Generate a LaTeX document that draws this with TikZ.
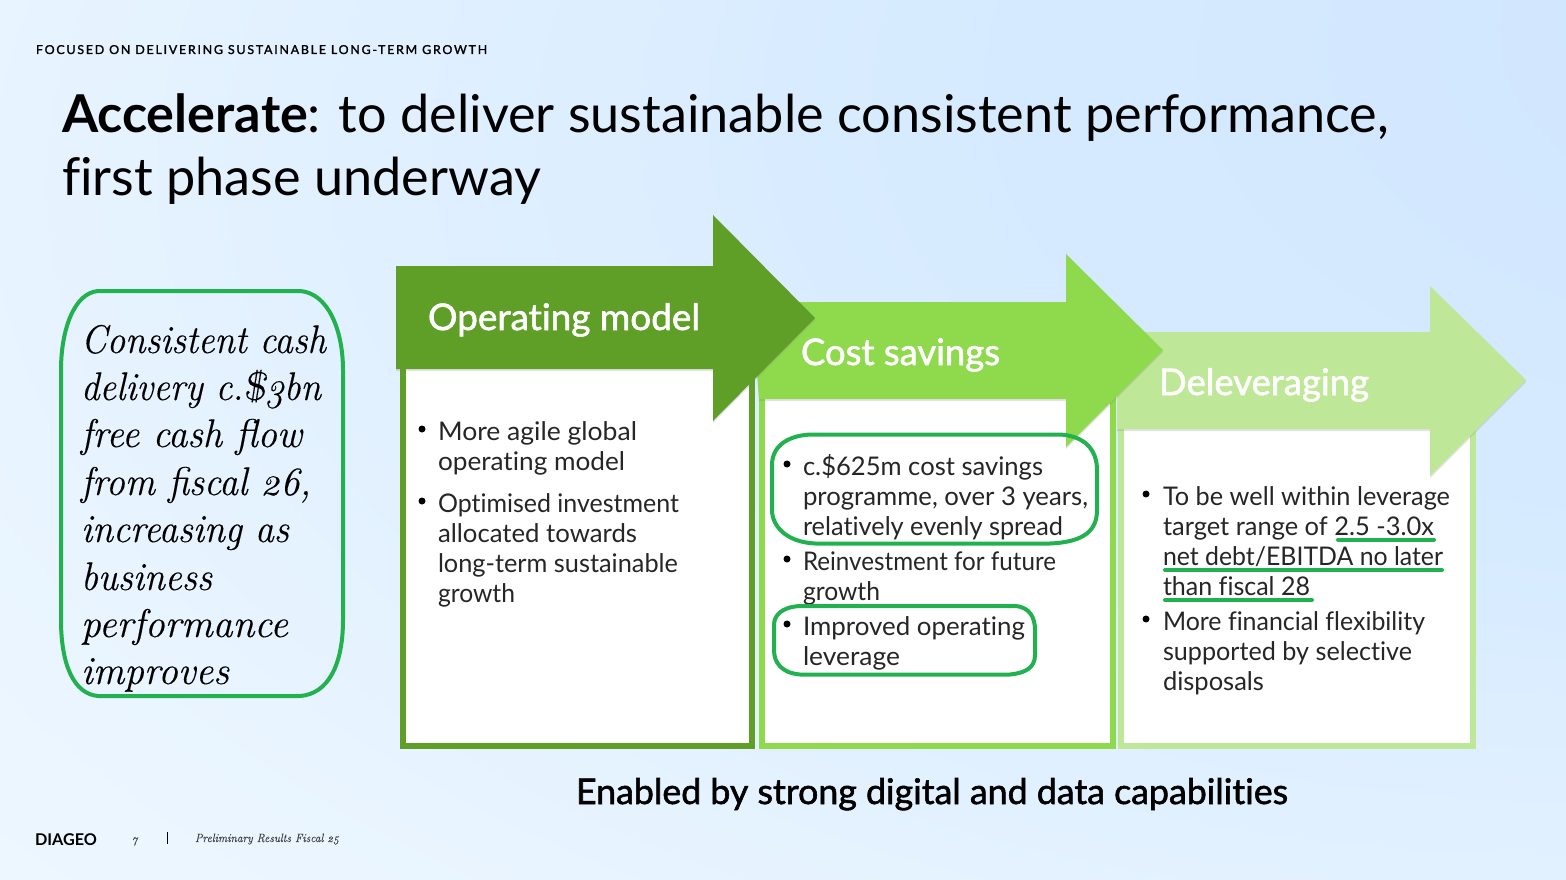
\documentclass[tikz,border=0pt]{standalone}
\usepackage{fontspec}
\usepackage{graphicx}
\usetikzlibrary{shadows}
\setmainfont{Lato}[Ligatures=NoCommon]
\newfontfamily\medf{Lato}[FakeBold=1.6,Ligatures=NoCommon]
\newfontfamily\serif{Latin Modern Roman}[Numbers=OldStyle,FakeStretch=0.925,ItalicFeatures={FakeBold=0.25}]
\definecolor{gA}{HTML}{5F9E27}
\definecolor{gB}{HTML}{8FD94D}
\definecolor{gC}{HTML}{BEE897}
\definecolor{mark}{HTML}{22B14F}
\definecolor{bga}{HTML}{CDE4FD}
\definecolor{bgb}{HTML}{D7EBFF}
\definecolor{bgc}{HTML}{E8F4FF}
\definecolor{bgd}{HTML}{F3FAFF}
\pgfdeclareradialshading{bgshade}{\pgfpoint{42bp}{27bp}}{color(0bp)=(bga); color(27bp)=(bgb); color(48bp)=(bgc); color(66bp)=(bgd); color(100bp)=(bgd)}
\newcommand{\fs}[1]{\fontsize{#1}{#1}\selectfont}
\newcommand{\ft}[2]{\resizebox{#1pt}{\height}{#2}}
\tikzset{
  x=1pt,y=-1pt,
  txt/.style={inner sep=0pt,outer sep=0pt,anchor=base west},
  body/.style={txt,font=\fs{25.7},text=black!85},
  bul/.style={circle,fill=black,inner sep=0pt,minimum size=7pt},
  head/.style={txt,font=\medf\fs{36.6},text=white},
  slant/.style={txt,font=\serif\itshape\fs{40},text=black},
  panelbox/.style={line width=6pt,fill=white,drop shadow={shadow xshift=1pt,shadow yshift=-1pt,opacity=.2}},
  arrowshape/.style={drop shadow={shadow xshift=0pt,shadow yshift=-2pt,opacity=.22}},
  ring/.style={draw=mark,line width=4pt},
  uline/.style={draw=mark,line width=4pt,line cap=round},
}
\begin{document}
\begin{tikzpicture}
\useasboundingbox (0,0) rectangle (1566,880);
\shade[shading=bgshade] (0,0) rectangle (1566,880);
% header
\node[txt,font=\medf\fs{12.3},text=black] (kicker) at (36,54) {\ft{451}{\addfontfeature{LetterSpace=14}FOCUSED ON DELIVERING SUSTAINABLE LONG-TERM GROWTH}};
\node[txt,font=\fs{52.2},text=black] (t1) at (62,132) {{\bfseries Accelerate}: to deliver sustainable consistent performance,};
\node[txt,font=\fs{52.2},text=black] (t2) at (62,195) {first phase underway};
% panels
\draw[panelbox,draw=gC] (1121,420) rectangle (1473,746);
\draw[panelbox,draw=gB] (762,390) rectangle (1113,746);
\draw[panelbox,draw=gA] (403,360) rectangle (752,746);
% arrows
\fill[gC,arrowshape] (1117,332) -- (1430,332) -- (1430,286) -- (1526,380) -- (1430,476) -- (1430,429) -- (1117,429) -- cycle;
\fill[gB,arrowshape] (752,302) -- (1066,302) -- (1066,254) -- (1163,350) -- (1066,447) -- (1066,399) -- (759,399) -- cycle;
\fill[gA,arrowshape] (396,266) -- (713,266) -- (713,215) -- (815,318) -- (713,421) -- (713,369) -- (396,369) -- cycle;
\node[head] (h1) at (428,330) {\ft{272}{Operating model}};
\node[head] (h2) at (801,365) {\ft{199}{Cost savings}};
\node[head] (h3) at (1159,395) {\ft{210}{Deleveraging}};
% left text
\node[slant] (s1) at (81,353) {\ft{245}{Consistent cash}};
\node[slant] (s2) at (81,400) {\ft{240}{delivery c.\$3bn}};
\node[slant] (s3) at (81,447) {\ft{221}{free cash flow}};
\node[slant] (s4) at (81,495) {\ft{230}{from fiscal 26,}};
\node[slant] (s5) at (81,542) {\ft{208}{increasing as}};
\node[slant] (s6) at (81,590) {\ft{131}{business}};
\node[slant] (s7) at (81,637) {\ft{207}{performance}};
\node[slant] (s8) at (81,684) {\ft{148}{improves}};
\draw[ring] (98,291) -- (300,291) .. controls (328,293) and (343,330) .. (343,370) -- (343,620) .. controls (343,665) and (328,694) .. (300,696) -- (98,696) .. controls (74,694) and (61,665) .. (61,620) -- (61,370) .. controls (61,330) and (74,293) .. (98,291) -- cycle;
% panel 1 text
\node[bul] (b11) at (422,429) {};
\node[body] (a1) at (438,440) {\ft{199}{More agile global}};
\node[body] (a2) at (438,470) {\ft{187}{operating model}};
\node[bul] (b12) at (422,501) {};
\node[body] (a3) at (438,512) {\ft{241}{Optimised investment}};
\node[body] (a4) at (438,542) {\ft{199}{allocated towards}};
\node[body] (a5) at (438,572) {\ft{240}{long-term sustainable}};
\node[body] (a6) at (438,602) {\ft{77}{growth}};
% panel 2 text
\node[bul] (b21) at (787,464) {};
\node[body] (c1) at (803,475) {\ft{240}{c.\$625m cost savings}};
\node[body] (c2) at (803,505) {\ft{285}{programme, over 3 years,}};
\node[body] (c3) at (803,535) {\ft{260}{relatively evenly spread}};
\node[bul] (b22) at (787,559) {};
\node[body] (c4) at (803,570) {\ft{253}{Reinvestment for future}};
\node[body] (c5) at (803,600) {\ft{77}{growth}};
\node[bul] (b23) at (787,624) {};
\node[body] (c6) at (803,635) {\ft{222}{Improved operating}};
\node[body] (c7) at (803,665) {\ft{97}{leverage}};
\draw[ring] (810,434.5) -- (1060,434.5) .. controls (1085,436) and (1097,450) .. (1097,470) -- (1097,510) .. controls (1097,530) and (1085,542) .. (1050,543.5) -- (815,543.5) .. controls (785,542) and (772,525) .. (772,510) -- (772,465) .. controls (772,448) and (785,436) .. (810,434.5) -- cycle;
\draw[ring] (800,606) -- (1015,606) .. controls (1030,607) and (1035,618) .. (1035,630) -- (1035,655) .. controls (1035,668) and (1025,673) .. (1010,674.5) -- (800,674.5) .. controls (782,673) and (774,663) .. (774,650) -- (774,625) .. controls (774,615) and (782,607) .. (800,606) -- cycle;
% panel 3 text
\node[bul] (b31) at (1146,494) {};
\node[body] (d1) at (1163,505) {\ft{287}{To be well within leverage}};
\node[body] (d2) at (1163,535) {\ft{271}{target range of 2.5 -3.0x}};
\node[body] (d3) at (1163,565) {\ft{280}{net debt/EBITDA no later}};
\node[body] (d4) at (1163,595) {\ft{147}{than fiscal 28}};
\node[bul] (b32) at (1146,619) {};
\node[body] (d5) at (1163,630) {\ft{262}{More financial flexibility}};
\node[body] (d6) at (1163,660) {\ft{249}{supported by selective}};
\node[body] (d7) at (1163,690) {\ft{101}{disposals}};
\draw[uline] (1338,539.5) -- (1434,539.5);
\draw[uline] (1165,570) -- (1442,570);
\draw[uline] (1165,600) -- (1312,600);
% footer
\node[txt,font=\medf\fs{35.3},text=black] (en) at (576,804) {\ft{712}{Enabled by strong digital and data capabilities}};
\node[txt,font=\bfseries\fs{16.2},text=black] (logo) at (35,845) {DIAGEO};
\node[txt,font=\serif\itshape\fs{12},text=black!75] (pg) at (132,843) {7};
\draw[black,line width=1pt] (167,832) -- (167,844);
\node[txt,font=\serif\itshape\fs{12},text=black!75] (foot) at (195,842) {\ft{144}{Preliminary Results Fiscal 25}};
\end{tikzpicture}
\end{document}
